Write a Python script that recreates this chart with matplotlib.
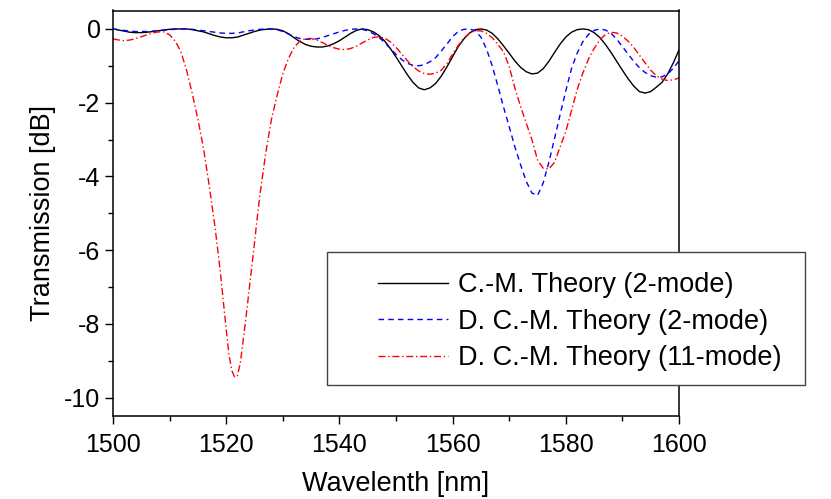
import matplotlib
matplotlib.use("Agg")
import matplotlib.pyplot as plt
from matplotlib.patches import Rectangle
from matplotlib.ticker import MultipleLocator

plt.rcParams['font.family'] = ['Liberation Sans', 'DejaVu Sans']
plt.rcParams['axes.unicode_minus'] = False

wavelength = list(range(1500, 1601))

cm_2mode = [
    0.00, -0.03, -0.06, -0.09, -0.10, -0.10, -0.09, -0.07, -0.05, -0.03,
    -0.01, 0.00, 0.00, 0.00, -0.02, -0.05, -0.08, -0.13, -0.18, -0.22,
    -0.24, -0.24, -0.22, -0.17, -0.12, -0.07, -0.03, -0.01, 0.00, -0.01,
    -0.05, -0.13, -0.24, -0.34, -0.42, -0.47, -0.49, -0.49, -0.46, -0.40,
    -0.32, -0.22, -0.12, -0.04, 0.00, -0.02, -0.08, -0.18, -0.33, -0.53,
    -0.76, -1.00, -1.24, -1.45, -1.60, -1.65, -1.60, -1.48, -1.28, -1.03,
    -0.75, -0.48, -0.27, -0.11, -0.02, 0.00, -0.03, -0.12, -0.27, -0.46,
    -0.66, -0.87, -1.04, -1.16, -1.22, -1.20, -1.08, -0.88, -0.64, -0.41,
    -0.22, -0.09, -0.02, 0.00, -0.02, -0.10, -0.23, -0.42, -0.64, -0.88,
    -1.12, -1.35, -1.55, -1.70, -1.74, -1.70, -1.58, -1.45, -1.22, -0.92,
    -0.57,
]

dcm_2mode = [
    0.00, -0.02, -0.04, -0.06, -0.07, -0.07, -0.07, -0.06, -0.05, -0.03,
    -0.02, -0.01, 0.00, 0.00, -0.01, -0.03, -0.05, -0.07, -0.09, -0.11,
    -0.12, -0.12, -0.11, -0.08, -0.05, -0.03, -0.01, 0.00, 0.00, -0.02,
    -0.07, -0.14, -0.21, -0.26, -0.28, -0.28, -0.27, -0.23, -0.18, -0.13,
    -0.08, -0.04, -0.01, 0.00, -0.01, -0.05, -0.13, -0.23, -0.37, -0.53,
    -0.69, -0.83, -0.93, -0.99, -1.00, -0.97, -0.89, -0.78, -0.60, -0.41,
    -0.21, -0.07, -0.01, 0.00, -0.05, -0.22, -0.55, -1.00, -1.55, -2.12,
    -2.65, -3.20, -3.68, -4.13, -4.45, -4.52, -4.18, -3.62, -2.98, -2.32,
    -1.68, -1.08, -0.66, -0.35, -0.15, -0.04, 0.00, -0.03, -0.12, -0.28,
    -0.48, -0.68, -0.88, -1.05, -1.18, -1.27, -1.31, -1.30, -1.22, -1.07,
    -0.86,
]

# 11-mode curve: finer sampling around the deep resonance
wavelength_11 = (list(range(1500, 1518))
                 + [1518 + 0.5 * i for i in range(16)]
                 + list(range(1526, 1601)))

dcm_11mode = [
    -0.27, -0.30, -0.32, -0.30, -0.26, -0.21, -0.16, -0.11, -0.08, -0.08,
    -0.16, -0.33, -0.62, -1.12, -1.75, -2.45, -3.25, -4.25,
    -5.35, -5.98, -6.65, -7.40, -8.15, -8.85, -9.27, -9.45,
    -9.40, -9.05, -8.45, -7.82, -7.15, -6.48, -5.80, -5.10,
    -4.45, -3.35, -2.45, -1.80,
    -1.22, -0.80, -0.50, -0.33, -0.26, -0.26, -0.30, -0.37, -0.45, -0.51,
    -0.55, -0.56, -0.53, -0.47, -0.38, -0.30, -0.23, -0.21, -0.25, -0.35,
    -0.50, -0.68, -0.86, -1.02, -1.14, -1.21, -1.23, -1.20, -1.12, -0.94,
    -0.68, -0.45, -0.25, -0.11, -0.05, -0.05, -0.12, -0.24, -0.42, -0.62,
    -1.02, -1.60, -2.10, -2.55, -3.00, -3.55, -3.78, -3.80, -3.62, -3.20,
    -2.78, -2.22, -1.65, -1.20, -0.82, -0.53, -0.30, -0.15, -0.09, -0.11,
    -0.20, -0.33, -0.50, -0.71, -0.92, -1.12, -1.27, -1.36, -1.40, -1.38,
    -1.33,
]

labels = ["C.-M. Theory (2-mode)", "D. C.-M. Theory (2-mode)", "D. C.-M. Theory (11-mode)"]

W, H = 831, 499
fig = plt.figure(figsize=(W / 100, H / 100), dpi=100)
ax = fig.add_axes([113 / W, 1 - 416 / H, (679 - 113) / W, 405.5 / H])

l1, = ax.plot(wavelength, cm_2mode, color='black', lw=1.0, ls='-')
l2, = ax.plot(wavelength, dcm_2mode, color='#0000ff', lw=1.0, ls=(0, (4, 3)))
l3, = ax.plot(wavelength_11, dcm_11mode, color='#ff0000', lw=1.0, ls=(0, (5, 2, 1, 2)))

ax.set_xlim(1500, 1600)
ax.set_ylim(-10.5, 0.5)
ax.xaxis.set_major_locator(MultipleLocator(20))
ax.xaxis.set_minor_locator(MultipleLocator(10))
ax.yaxis.set_major_locator(MultipleLocator(2))
ax.yaxis.set_minor_locator(MultipleLocator(1))
ax.tick_params(which='both', direction='out', top=False, right=False, width=1.0)
ax.tick_params(which='major', length=6, labelsize=18)
ax.tick_params(which='minor', length=3.5)
ax.tick_params(axis='x', which='major', pad=6)
ax.tick_params(axis='y', which='major', pad=3)
for s in ax.spines.values():
    s.set_linewidth(1.1)

ax.set_xlabel("Wavelenth [nm]", fontsize=19.5, labelpad=10)
ax.set_ylabel("Transmission [dB]", fontsize=19.5, labelpad=6)

# legend frame (extends beyond the axes)
x0, x1, y0, y1 = 327, 805, 252, 385
rect = Rectangle((x0 / W, 1 - y1 / H), (x1 - x0) / W, (y1 - y0) / H,
                 transform=fig.transFigure, facecolor='white', edgecolor='#444444',
                 lw=1.0, zorder=5)
fig.patches.append(rect)
leg = fig.legend([l1, l2, l3], labels, loc='upper left',
                 bbox_to_anchor=(378 / W, 1 - 272 / H), bbox_transform=fig.transFigure,
                 frameon=False, fontsize=19.5, handlelength=2.6, handletextpad=0.35,
                 labelspacing=0.39, borderpad=0, borderaxespad=0)
leg.set_zorder(6)

fig.savefig("out.png", dpi=100)
